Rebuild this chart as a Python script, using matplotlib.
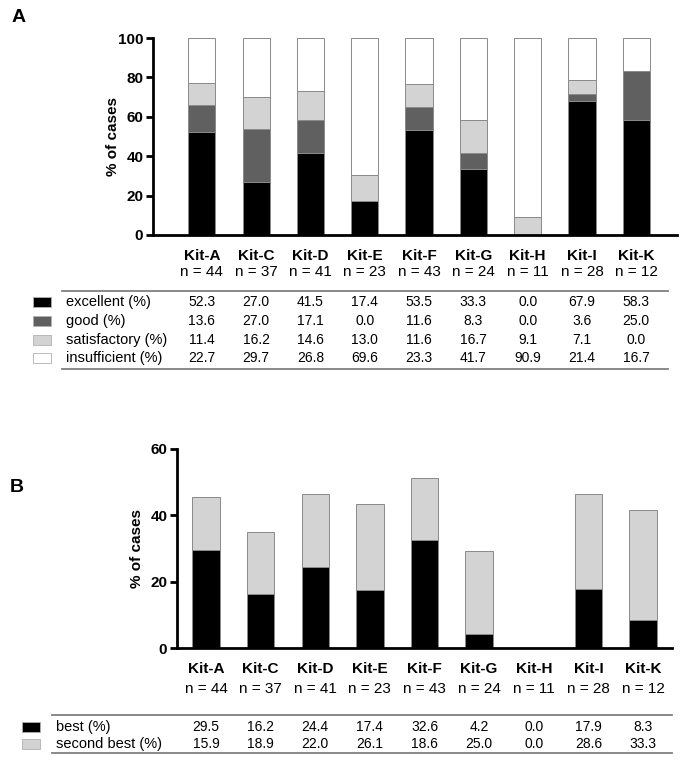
import numpy as np
import matplotlib
matplotlib.use("Agg")
import matplotlib.pyplot as plt
from matplotlib.lines import Line2D
from matplotlib.patches import Rectangle
import matplotlib.transforms as mtransforms

plt.rcParams['font.family'] = ['Liberation Sans', 'DejaVu Sans']

kits = ['Kit-A', 'Kit-C', 'Kit-D', 'Kit-E', 'Kit-F', 'Kit-G', 'Kit-H', 'Kit-I', 'Kit-K']
n_cases = [44, 37, 41, 23, 43, 24, 11, 28, 12]

# panel A: quality grades (%)
excellent = [52.3, 27.0, 41.5, 17.4, 53.5, 33.3, 0.0, 67.9, 58.3]
good = [13.6, 27.0, 17.1, 0.0, 11.6, 8.3, 0.0, 3.6, 25.0]
satisfactory = [11.4, 16.2, 14.6, 13.0, 11.6, 16.7, 9.1, 7.1, 0.0]
insufficient = [22.7, 29.7, 26.8, 69.6, 23.3, 41.7, 90.9, 21.4, 16.7]

# panel B: ranking (%)
best = [29.5, 16.2, 24.4, 17.4, 32.6, 4.2, 0.0, 17.9, 8.3]
second_best = [15.9, 18.9, 22.0, 26.1, 18.6, 25.0, 0.0, 28.6, 33.3]

W, H = 692, 760
fig = plt.figure(figsize=(W / 100, H / 100), dpi=100)


def box(left, top, right, bottom):
    return [left / W, 1 - bottom / H, (right - left) / W, (bottom - top) / H]


def fy(py):
    return 1 - py / H


def fx(px):
    return px / W


def style_axes(ax, ymax, step, xlim, ylab_x):
    ax.set_xlim(*xlim)
    ax.set_ylim(0, ymax)
    ax.set_yticks(np.arange(0, ymax + 1, step))
    for s in ['top', 'right']:
        ax.spines[s].set_visible(False)
    for s in ['left', 'bottom']:
        ax.spines[s].set_linewidth(2.0)
    ax.tick_params(axis='y', width=2.0, length=5, labelsize=11, pad=2)
    ax.tick_params(axis='x', length=0, labelsize=11, pad=10)
    for lab in ax.get_yticklabels():
        lab.set_fontweight('bold')
    ax.set_ylabel('% of cases', fontsize=11, fontweight='bold')
    ax.yaxis.set_label_coords(fx(ylab_x), 0.5, transform=mtransforms.blended_transform_factory(fig.transFigure, ax.transAxes))
    ax.set_xticks(x)
    ax.set_xticklabels(kits, fontweight='bold')


def table(ax, rows, names, colors, y_rows, line_top, line_bot, line_x, sq_x, lab_x):
    tr = mtransforms.blended_transform_factory(ax.transData, fig.transFigure)
    for vals, name, col, yy in zip(rows, names, colors, y_rows):
        for xi, v in zip(x, vals):
            ax.text(xi, fy(yy), f'{v:.1f}', transform=tr, ha='center', va='center', fontsize=10)
        fig.add_artist(Rectangle((fx(sq_x), fy(yy + 5)), 18 / W, 10 / H,
                                 facecolor=col, edgecolor='#b0b0b0', linewidth=0.6,
                                 transform=fig.transFigure))
        fig.text(fx(lab_x), fy(yy), name, ha='left', va='center', fontsize=10.5)
    for ly in [line_top, line_bot]:
        fig.add_artist(Line2D([fx(line_x[0]), fx(line_x[1])], [fy(ly), fy(ly)],
                              color='#808080', linewidth=1.3, transform=fig.transFigure))


def n_labels(ax, py):
    tr = mtransforms.blended_transform_factory(ax.transData, fig.transFigure)
    for xi, n in zip(x, n_cases):
        ax.text(xi, fy(py), f'n = {n}', transform=tr, ha='center', va='center', fontsize=11)


x = np.arange(len(kits))
edge = '#8a8a8a'

# ---- panel A
axA = fig.add_axes(box(153, 38, 677, 235))
bottom = np.zeros(len(kits))
colsA = ['black', '#606060', '#d3d3d3', 'white']
for vals, c in zip([excellent, good, satisfactory, insufficient], colsA):
    axA.bar(x, vals, width=0.5, bottom=bottom, color=c, edgecolor=edge, linewidth=0.7, zorder=2)
    bottom += np.array(vals)
style_axes(axA, 100, 20, (-0.9, 8.75), 120)
n_labels(axA, 272)
table(axA, [excellent, good, satisfactory, insufficient],
      ['excellent (%)', 'good (%)', 'satisfactory (%)', 'insufficient (%)'], colsA,
      [302, 321, 340, 358], 291, 369, (62, 668), 33, 66)
fig.text(fx(12), fy(18), 'A', fontsize=14, fontweight='bold', ha='left', va='center')

# ---- panel B
axB = fig.add_axes(box(177, 449, 672, 648))
colsB = ['black', '#d3d3d3']
axB.bar(x, best, width=0.5, color=colsB[0], edgecolor=edge, linewidth=0.7, zorder=2)
axB.bar(x, second_best, width=0.5, bottom=best, color=colsB[1], edgecolor=edge,
        linewidth=0.7, zorder=2)
style_axes(axB, 60, 20, (-0.53, 8.53), 144)
n_labels(axB, 689)
table(axB, [best, second_best], ['best (%)', 'second best (%)'], colsB,
      [727, 744], 715, 753, (52, 672), 22, 56)
fig.text(fx(10), fy(487), 'B', fontsize=14, fontweight='bold', ha='left', va='center')

fig.savefig('out.png', dpi=100)
